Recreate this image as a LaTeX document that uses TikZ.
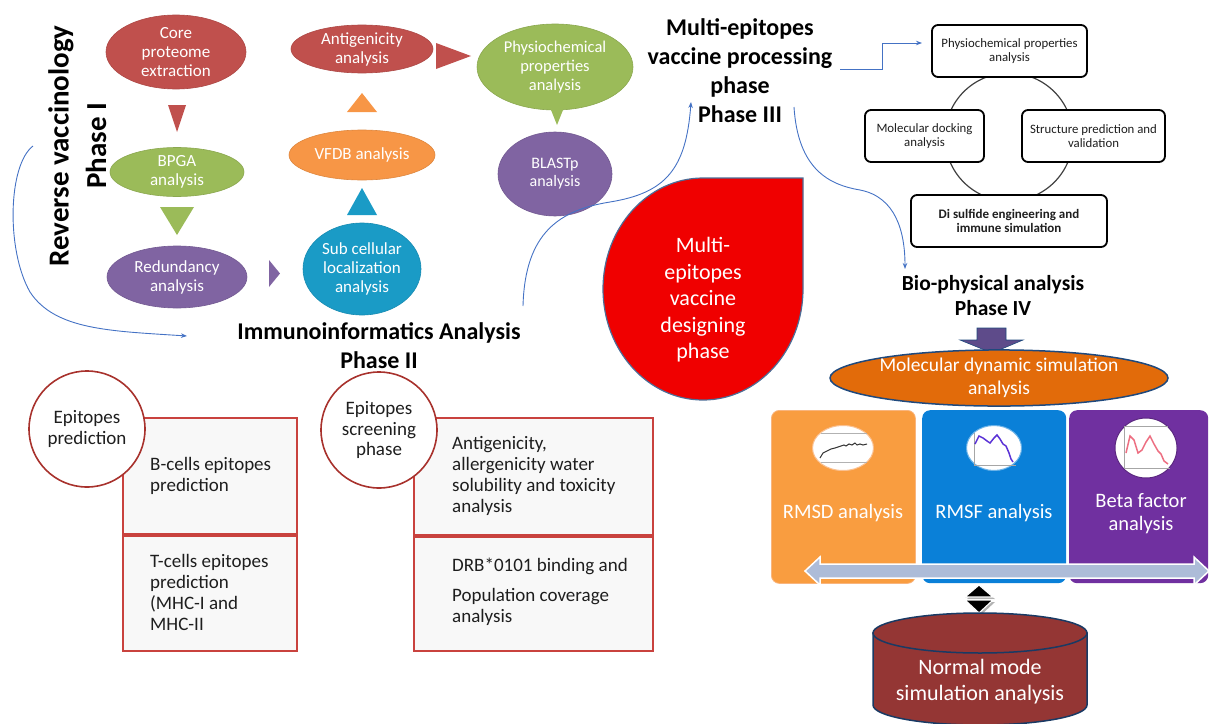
\documentclass[tikz,border=0pt]{standalone}
\usepackage{fontspec}
\setmainfont{Carlito}
\usetikzlibrary{shapes.geometric,arrows.meta,calc}
\definecolor{cred}{HTML}{C0504D}
\definecolor{cgreen}{HTML}{9BBB59}
\definecolor{cpurple}{HTML}{8064A2}
\definecolor{cteal}{HTML}{1A9BC6}
\definecolor{corange}{HTML}{F79646}
\definecolor{dropred}{HTML}{F00000}
\definecolor{navy}{HTML}{1F497D}
\definecolor{mdorange}{HTML}{E26B0A}
\definecolor{rmsdc}{HTML}{F99D40}
\definecolor{rmsfc}{HTML}{0A80D8}
\definecolor{betac}{HTML}{7030A0}
\definecolor{cylc}{HTML}{943634}
\definecolor{arrowgray}{HTML}{ADBCD8}
\definecolor{lblue}{HTML}{4472C4}
\definecolor{bred}{HTML}{C9423E}
\definecolor{cdred}{HTML}{A8322D}
\definecolor{boxgray}{HTML}{F8F8F8}
\definecolor{blockp}{HTML}{5E4B8A}
\definecolor{txt}{HTML}{1E1E1E}
\newcommand{\myfs}[2]{\fontsize{#1}{#2}\selectfont}
\tikzset{
 ell/.style={ellipse, inner sep=0pt, align=center, text=white, font=\myfs{17}{19}},
 conn/.style={draw=lblue, line width=0.9pt, -{Stealth[length=6pt,width=4.5pt]}},
 head/.style={align=center, font=\bfseries\myfs{24}{29}, text=black},
 rbox/.style={draw=black, line width=1.8pt, rounded corners=6pt, fill=white, align=center, font=\myfs{12.8}{13.8}, text=txt, inner sep=0pt, minimum height=52pt},
 pbox/.style={draw=bred, line width=1.6pt, fill=boxgray, anchor=north west, inner sep=0pt},
 pcirc/.style={circle, draw=cdred, line width=1.6pt, fill=white, minimum size=116pt, inner sep=0pt, align=center, font=\myfs{19}{20.5}, text=txt},
 btext/.style={align=left, font=\myfs{19}{21}, text=txt, inner sep=0pt, anchor=west},
 mdbox/.style={rounded corners=8pt, inner sep=0pt, anchor=north west, minimum height=173pt},
 wtext/.style={text=white, align=center, inner sep=0pt},
 plotell/.style={ellipse, fill=white, inner sep=0pt, line width=1pt},
}
\begin{document}
\begin{tikzpicture}[x=1pt,y=-1pt]
\useasboundingbox (0,0) rectangle (1210,723);

% ---------------- Phase I ----------------
\node[rotate=90, font=\bfseries\myfs{29}{32}, text=black] (rv) at (61,146) {Reverse vaccinology};
\node[rotate=90, font=\bfseries\myfs{29}{32}, text=black] (ph1) at (96,146) {Phase I};

\node[ell, fill=cred, draw=cred!90!black, line width=0.6pt, minimum width=140pt, minimum height=74pt] (core) at (176,52) {Core\\proteome\\extraction};
\node[ell, fill=cgreen, draw=cgreen!90!black, line width=0.6pt, minimum width=134pt, minimum height=49pt] (bpga) at (177,172) {BPGA\\analysis};
\node[ell, fill=cpurple, draw=cpurple!90!black, line width=0.6pt, minimum width=140pt, minimum height=62pt] (red) at (177,277) {Redundancy\\analysis};
\node[ell, fill=cteal, draw=cteal!90!black, line width=0.6pt, minimum width=118pt, minimum height=92pt] (sub) at (362,269) {Sub cellular\\localization\\analysis};
\node[ell, fill=corange, draw=corange!90!black, line width=0.6pt, minimum width=146pt, minimum height=50pt] (vfdb) at (362,155) {VFDB analysis};
\node[ell, fill=cred, draw=cred!90!black, line width=0.6pt, minimum width=142pt, minimum height=48pt] (anti) at (362,49) {Antigenicity\\analysis};
\node[ell, fill=cgreen, draw=cgreen!90!black, line width=0.6pt, minimum width=156pt, minimum height=86pt, font=\myfs{16.5}{19}] (phys) at (555,67) {Physiochemical\\properties\\analysis};
\fill[cgreen] (547,100) -- (567,100) -- (557,125) -- cycle;
\node[ell, fill=cpurple, draw=cpurple!90!black, line width=0.6pt, minimum width=114pt, minimum height=84pt, font=\myfs{16}{18}] (blast) at (555,174) {BLASTp\\analysis};

% triangle arrows
\fill[cred] (168,105) -- (186,105) -- (177,132) -- cycle;
\fill[cgreen] (160,207) -- (194,207) -- (177,235) -- cycle;
\fill[cpurple] (269,260) -- (280,273.5) -- (269,287) -- cycle;
\fill[cteal] (347,215) -- (377,215) -- (362,188) -- cycle;
\fill[corange] (347,112) -- (377,112) -- (362,93) -- cycle;
\fill[cred] (436,43) -- (471,56) -- (436,69) -- cycle;

% ---------------- Phase II ----------------
\node[head] (immuno) at (379,346) {Immunoinformatics Analysis\\Phase II};

\node[pbox, minimum width=174pt, minimum height=116pt] (bcell) at (122,417) {};
\node[pbox, minimum width=174pt, minimum height=115pt] (tcell) at (122,535) {};
\node[pcirc] (eprd) at (87,429) {Epitopes\\prediction};
\node[btext] (bct) at (150,475.5) {B-cells epitopes\\prediction};
\node[btext] (tct) at (150,592) {T-cells epitopes\\prediction\\(MHC-I and\\MHC-II};

\node[pbox, minimum width=239pt, minimum height=117pt] (agbox) at (413,417) {};
\node[pbox, minimum width=239pt, minimum height=114pt] (drbox) at (413,536) {};
\node[pcirc] (escr) at (379,430) {Epitopes\\screening\\phase};
\node[btext] (agt) at (452,476) {Antigenicity,\\allergenicity water\\solubility and toxicity\\analysis};
\node[btext] (drt) at (452,591.5) {DRB*0101 binding and\\[9pt]Population coverage\\analysis};

% ---------------- Phase III ----------------
\node[head] (mep) at (740,71) {Multi-epitopes\\vaccine processing\\phase\\Phase III};

\draw[fill=dropred, draw=navy!80!white, line width=1.2pt]
  (803,178) -- (803,289) arc[start angle=0, end angle=270, x radius=100, y radius=111] -- cycle;
\node[wtext, font=\myfs{22}{26.5}] (drop) at (703,300) {Multi-\\epitopes\\vaccine\\designing\\phase};

\node[circle, draw=black!75, line width=1.2pt, minimum size=128pt, inner sep=0pt] (cyc) at (1009,137) {};
\node[rbox, minimum width=155pt] (b1) at (1009.5,51) {Physiochemical properties\\analysis};
\node[rbox, minimum width=119pt] (b2) at (924.5,136) {Molecular docking\\analysis};
\node[rbox, minimum width=143pt] (b3) at (1093.5,136) {Structure prediction and\\validation};
\node[rbox, minimum width=196pt, font=\bfseries\myfs{13}{14}] (b4) at (1009,221) {Di sulfide engineering and\\immune simulation};

% connectors
\coordinate (c1s) at (33,146);
\coordinate (c1e) at (187,336);
\draw[conn] (c1s) .. controls (8,165) and (6,250) .. (30,292) .. controls (55,330) and (110,331) .. (c1e);
\coordinate (c2s) at (523,306);
\coordinate (c2e) at (691,102);
\draw[conn] (c2s) .. controls (525,232) and (560,210) .. (610,202) .. controls (665,193) and (686,170) .. (c2e);
\coordinate (c3s) at (794,107);
\coordinate (c3e) at (905,269);
\draw[conn] (c3s) .. controls (798,170) and (830,185) .. (860,190) .. controls (896,197) and (905,232) .. (c3e);
\coordinate (c4s) at (840,69);
\coordinate (c4e) at (922,43);
\draw[conn] (c4s) -- (882,69) -- (882,43) -- (c4e);

% ---------------- Phase IV ----------------
\node[align=center, font=\bfseries\myfs{21.5}{25}, text=black] (bio) at (993,296) {Bio-physical analysis\\Phase IV};
\filldraw[fill=blockp, draw=navy, line width=0.6pt] (977,328) -- (1006,328) -- (1006,340) -- (1023,340) -- (992,353) -- (960,340) -- (977,340) -- cycle;
\node[ell, fill=mdorange, draw=navy, line width=1.5pt, minimum width=318pt, minimum height=46pt, font=\myfs{19.5}{23}] (md) at (999,378) {Molecular dynamic simulation\\analysis};

\node[mdbox, fill=rmsdc, draw=corange!70!white, line width=0.8pt, minimum width=144pt] (rmsd) at (771,410) {};
\node[mdbox, fill=rmsfc, minimum width=144pt] (rmsf) at (922,410) {};
\node[mdbox, fill=betac, minimum width=139pt] (beta) at (1069,410) {};

\node[plotell, draw=corange!60!white, minimum width=61pt, minimum height=45pt] (p1) at (843,448) {};
\node[plotell, draw=rmsfc!60!white, minimum width=55pt, minimum height=45pt] (p2) at (994,448) {};
\node[plotell, draw=betac!80!black, minimum width=62pt, minimum height=60pt] (p3) at (1146,448) {};
\begin{scope}[shift={(p1.center)}]
 \draw[gray!60, line width=0.3pt] (-22,-15) -- (24,-15) (-22,14) -- (24,14);
 \draw[black!80, line width=1pt] plot coordinates {(-23,10) (-20,5) (-16,3) (-12,1) (-8,0) (-5,-1) (-2,-2) (1,-3) (3,-2) (6,-4) (9,-3) (12,-5) (14,-3) (17,-4) (20,-3) (24,-4)};
\end{scope}
\begin{scope}[shift={(p2.center)}]
 \draw[gray!70, line width=0.3pt] (-20,-15) -- (-20,17) -- (22,17);
 \draw[blue!60!violet, line width=1.5pt, opacity=0.8] plot coordinates {(-19,-4) (-15,-12) (-11,-10) (-7,-7) (-4,-5) (0,-10) (3,-13) (6,-9) (9,-4) (12,-2) (15,5) (17,11) (19,14)};
\end{scope}
\begin{scope}[shift={(p3.center)}]
 \draw[gray!70, line width=0.3pt] (-22,-22) -- (-22,20) -- (24,20) (-22,-22) -- (22,-22);
 \draw[red!50!purple!70, line width=1.5pt, opacity=0.8] plot coordinates {(-20,5) (-16,-12) (-12,-8) (-8,5) (-4,2) (0,-6) (4,-12) (8,-4) (12,3) (15,6) (18,13) (22,16)};
\end{scope}

\node[wtext, font=\myfs{20.5}{23}] (rmsdt) at (843,513) {RMSD analysis};
\node[wtext, font=\myfs{20.5}{23}] (rmsft) at (994,513) {RMSF analysis};
\node[wtext, font=\myfs{20.5}{23}] (betat) at (1141,513.5) {Beta factor\\analysis};

% double arrow
\filldraw[fill=arrowgray, draw=white, line width=1.5pt] (805,571) -- (820,557) -- (820,564) -- (1194,564) -- (1194,557) -- (1209,571) -- (1194,585) -- (1194,578) -- (820,578) -- (820,585) -- cycle;

% small up/down arrows
\fill[gray!60] (967,599) -- (995,599) -- (981,587) -- cycle;
\fill[gray!60] (967,602) -- (995,602) -- (981,615) -- cycle;
\filldraw[fill=black, draw=white, line width=1.2pt] (965,597) -- (993,597) -- (979,585) -- cycle;
\filldraw[fill=black, draw=white, line width=1.2pt] (965,600) -- (993,600) -- (979,613) -- cycle;

% cylinder
\filldraw[fill=cylc, draw=navy!80!black, line width=1.5pt] (873,633) -- (873,705) arc[start angle=180, end angle=0, x radius=107, y radius=20] -- (1087,633) -- cycle;
\filldraw[fill=cylc, draw=navy!80!black, line width=1.5pt] (980,633) ellipse[x radius=107, y radius=20];
\node[wtext, font=\myfs{22}{26}] (nm) at (980,682) {Normal mode\\simulation analysis};
\end{tikzpicture}
\end{document}
